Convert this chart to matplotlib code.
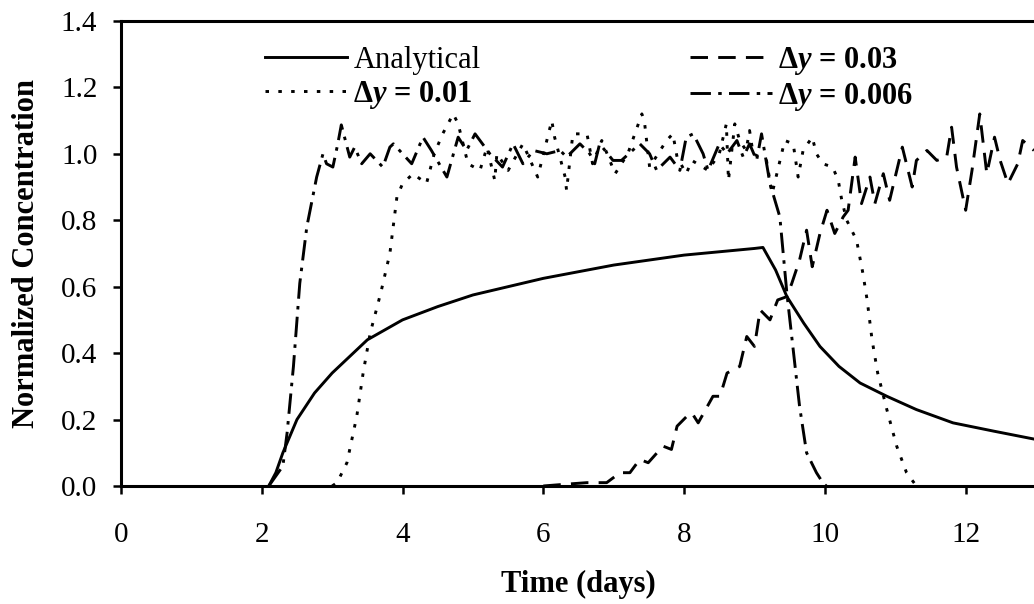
import matplotlib
matplotlib.use('Agg')
import matplotlib.pyplot as plt

plt.rcParams['font.family'] = ['Liberation Serif', 'DejaVu Serif']
plt.rcParams['mathtext.fontset'] = 'custom'
plt.rcParams['mathtext.rm'] = 'Liberation Serif'
plt.rcParams['mathtext.it'] = 'Liberation Serif:italic'
plt.rcParams['mathtext.bf'] = 'Liberation Serif:bold'
plt.rcParams['mathtext.bfit'] = 'Liberation Serif:bold:italic'

# Analytical solution
t_an = [2.1, 2.2, 2.3, 2.4, 2.5, 2.75, 3.0, 3.25, 3.5, 4.0, 4.5, 5.0, 5.5, 6.0,
        6.5, 7.0, 7.5, 8.0, 8.5, 9.0, 9.12, 9.3, 9.46, 9.7, 9.93, 10.2, 10.5,
        10.88, 11.3, 11.82, 12.4, 13.0]
c_an = [0.0, 0.04, 0.1, 0.15, 0.2, 0.28, 0.34, 0.39, 0.44, 0.50, 0.54, 0.575, 0.6, 0.625,
        0.645, 0.665, 0.68, 0.695, 0.705, 0.715, 0.718, 0.65, 0.57, 0.49, 0.42, 0.36, 0.31,
        0.27, 0.23, 0.19, 0.165, 0.14]

# dy = 0.01 (dotted)
t_01 = [3.0, 3.07, 3.21, 3.35, 3.44, 3.54, 3.64, 3.7, 3.82, 3.92, 4.0, 4.15, 4.34, 4.45,
        4.57, 4.72, 4.79, 4.93, 5.1, 5.2, 5.31, 5.34, 5.5, 5.71, 5.92, 6.12, 6.16, 6.31,
        6.33, 6.42, 6.62, 6.7, 6.83, 7.02, 7.2, 7.4, 7.44, 7.51, 7.75, 7.84, 7.9, 8.03,
        8.11, 8.34, 8.5, 8.6, 8.63, 8.72, 8.79, 8.88, 8.93, 8.98, 9.17, 9.25, 9.43, 9.55,
        9.62, 9.69, 9.82, 9.88, 9.97, 10.11, 10.19, 10.24, 10.31, 10.45, 10.54, 10.6,
        10.67, 10.75, 10.88, 11.02, 11.16, 11.3]
c_01 = [0.0, 0.01, 0.07, 0.21, 0.34, 0.46, 0.54, 0.59, 0.70, 0.87, 0.91, 0.94, 0.91, 1.0,
        1.06, 1.12, 1.09, 0.97, 0.95, 1.02, 0.92, 1.0, 0.95, 1.03, 0.93, 1.1, 1.05, 0.93,
        0.89, 1.06, 1.06, 0.97, 1.04, 0.94, 1.0, 1.12, 1.09, 0.96, 1.04, 1.06, 0.99, 0.94,
        0.98, 0.95, 1.0, 1.09, 0.92, 1.09, 1.04, 1.01, 1.07, 1.0, 0.98, 0.88, 1.04, 1.03,
        0.93, 1.01, 1.05, 1.0, 0.97, 0.96, 0.92, 0.86, 0.8, 0.74, 0.64, 0.56,
        0.44, 0.34, 0.23, 0.12, 0.04, 0.0]

# dy = 0.03 (dashed)
t_03 = [6.0, 6.3, 6.62, 6.9, 7.09, 7.23, 7.37, 7.49, 7.7, 7.82, 7.9, 8.04, 8.11, 8.2,
        8.41, 8.51, 8.61, 8.79, 8.89, 9.0, 9.08, 9.22, 9.33, 9.46, 9.53, 9.64, 9.74,
        9.82, 9.93, 10.03, 10.14, 10.26, 10.33, 10.43, 10.52, 10.64, 10.71, 10.83, 10.92,
        11.1, 11.24, 11.3, 11.45, 11.59, 11.73, 11.8, 11.87, 12.0, 12.09, 12.2, 12.3,
        12.41, 12.49, 12.6, 12.74, 12.81, 12.97]
c_03 = [0.0, 0.005, 0.01, 0.01, 0.04, 0.04, 0.08, 0.07, 0.12, 0.11, 0.18, 0.21, 0.22, 0.19,
        0.27, 0.27, 0.34, 0.36, 0.45, 0.42, 0.53, 0.5, 0.56, 0.57, 0.61, 0.68, 0.77,
        0.66, 0.76, 0.83, 0.76, 0.81, 0.83, 0.99, 0.85, 0.93, 0.85, 0.94, 0.86,
        1.02, 0.90, 0.98, 1.01, 0.98, 0.99, 1.08, 0.96, 0.83, 0.95, 1.12, 0.94,
        1.05, 0.98, 0.91, 0.97, 1.04, 1.01]

# dy = 0.006 (dash-dot)
t_006 = [2.1, 2.3, 2.36, 2.45, 2.54, 2.64, 2.78, 2.87, 2.92, 3.01, 3.08, 3.13, 3.25, 3.32,
         3.42, 3.54, 3.72, 3.82, 3.87, 4.13, 4.29, 4.41, 4.63, 4.79, 4.91, 5.03, 5.24,
         5.42, 5.57, 5.71, 5.86, 6.05, 6.24, 6.33, 6.52, 6.66, 6.73, 6.8, 6.99, 7.11,
         7.37, 7.51, 7.61, 7.8, 7.94, 8.03, 8.13, 8.27, 8.34, 8.5, 8.61, 8.75, 8.84,
         8.93, 9.03, 9.1, 9.22, 9.36, 9.46, 9.55, 9.64, 9.74, 9.88, 9.97, 10.02]
c_006 = [0.0, 0.06, 0.16, 0.36, 0.61, 0.78, 0.93, 1.0, 0.97, 0.96, 1.03, 1.087, 0.99, 1.02,
         0.97, 1.0, 0.96, 1.02, 1.03, 0.97, 1.05, 1.01, 0.93, 1.05, 1.01, 1.06, 1.0,
         0.96, 1.03, 0.97, 1.01, 1.0, 1.01, 0.99, 1.03, 1.0, 0.97, 1.03, 0.98, 0.98,
         1.03, 1.0, 0.95, 0.99, 0.95, 1.05, 1.06, 1.0, 0.95, 1.03, 1.0, 1.04, 0.99,
         1.03, 0.98, 1.06, 0.91, 0.81, 0.58, 0.41, 0.24, 0.10, 0.04, 0.01, 0.0]

x_ticks = [0, 2, 4, 6, 8, 10, 12]
y_ticks = [0.0, 0.2, 0.4, 0.6, 0.8, 1.0, 1.2, 1.4]

fig = plt.figure(figsize=(10.34, 6.04), dpi=100)
ax = fig.add_axes([0.117, 0.1954, 0.885, 0.770])

lw = 2.1
ax.plot(t_an, c_an, color='black', lw=lw, ls='-', label='Analytical')
ax.plot(t_01, c_01, color='black', lw=lw, ls=(0, (1.2, 3.2)), label='Δ$\\mathbfit{y}$ = 0.01')
ax.plot(t_03, c_03, color='black', lw=lw, ls=(0, (6, 3.5)), label='Δ$\\mathbfit{y}$ = 0.03')
ax.plot(t_006, c_006, color='black', lw=lw, ls=(0, (7, 2.5, 1.2, 2.5)), label='Δ$\\mathbfit{y}$ = 0.006')

ax.set_xlim(0, 13)
ax.set_ylim(0, 1.4)
ax.set_xticks(x_ticks)
ax.set_yticks(y_ticks)
ax.set_yticklabels(['%.1f' % v for v in y_ticks])
ax.tick_params(direction='out', length=6, width=1.8, labelsize=21)
ax.tick_params(axis='y', pad=11)
ax.tick_params(axis='x', pad=20)

for side in ['left', 'bottom', 'top']:
    ax.spines[side].set_linewidth(2.2)
ax.spines['right'].set_visible(False)

ax.set_xlabel('Time (days)', fontsize=22, fontweight='bold', labelpad=16)
ax.set_ylabel('Normalized Concentration', fontsize=22, fontweight='bold', labelpad=14)

leg = ax.legend(loc='upper left', bbox_to_anchor=(0.127, 1.007), ncol=2, frameon=False,
                fontsize=22, handlelength=2.7, columnspacing=6.85, labelspacing=0.11,
                handletextpad=0.2)
for txt in leg.get_texts()[1:]:
    txt.set_fontweight('bold')

fig.savefig('out.png', dpi=100)
